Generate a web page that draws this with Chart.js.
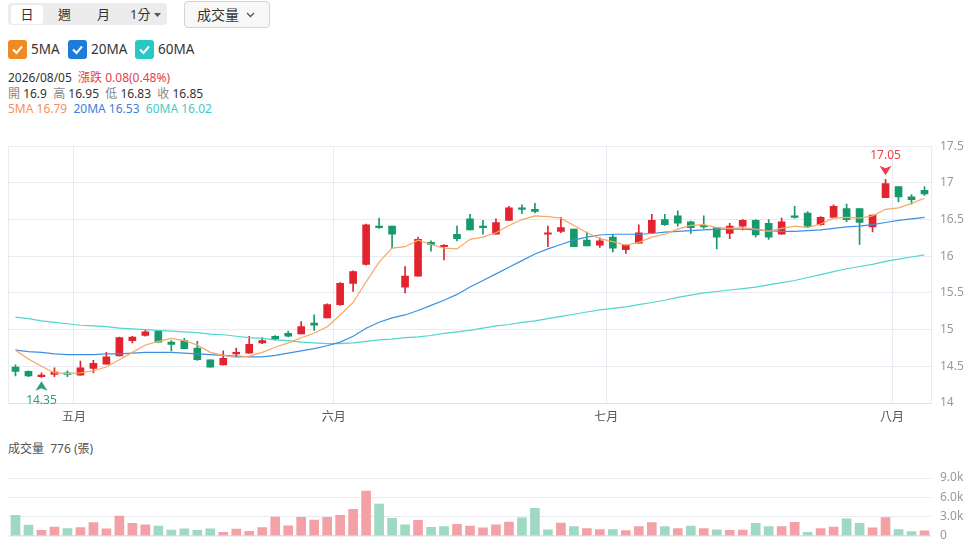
<!DOCTYPE html>
<html><head><meta charset="utf-8">
<script src="https://cdn.jsdelivr.net/npm/chart.js@4.4.1/dist/chart.umd.min.js"></script>
<style>
html,body{margin:0;padding:0;background:#fff}
body{width:973px;height:552px;overflow:hidden;position:relative;font-family:"Noto Sans","Noto Sans CJK TC",sans-serif;color:#333}
.tabs{position:absolute;left:8px;top:3px;width:159px;height:22px;background:#ececec;border-radius:4px;font-size:13px}
.tabs span{position:absolute;top:0;line-height:22px;color:#333}
.tabs .sel{left:3px;top:2px;width:32px;height:19px;line-height:19px;background:#fff;border-radius:3px;text-align:center}
.btn{position:absolute;left:184px;top:1px;width:84px;height:25px;border:1px solid #d4d4d4;border-radius:4px;background:#f8f8f8;font-size:14px;line-height:25px}
.legend{position:absolute;top:40px;left:8px;height:19px;font-size:13.5px;line-height:19px}
.cb{position:absolute;top:0;width:19px;height:19px;border-radius:3px}
.lt{position:absolute;top:0}
.info{position:absolute;left:8px;font-size:12px;white-space:pre;line-height:15px}
.g{color:#888}
#pwrap{position:absolute;left:0;top:130px;width:973px;height:300px}
#vwrap{position:absolute;left:0;top:460px;width:973px;height:92px}
.vl{position:absolute;left:8px;top:441px;font-size:12px;color:#555;white-space:pre;line-height:15px}
</style></head>
<body>
<div class="tabs"><span class="sel">日</span><span style="left:50px">週</span><span style="left:89px">月</span><span style="left:122px">1分</span><svg style="position:absolute;left:146px;top:10px" width="7" height="4" viewBox="0 0 7 4"><polygon points="0,0 7,0 3.5,4" fill="#555"/></svg></div>
<div class="btn"><span style="position:absolute;left:12px">成交量</span><svg style="position:absolute;left:61px;top:10px" width="9" height="6" viewBox="0 0 9 6"><polyline points="1,1 4.5,4.5 8,1" fill="none" stroke="#555" stroke-width="1.3"/></svg></div>
<div class="legend">
 <div class="cb" style="left:0;background:#f08a24"><svg width="19" height="19"><polyline points="5,9.5 8.5,13 14,6.5" fill="none" stroke="#fff" stroke-width="2"/></svg></div><span class="lt" style="left:23px">5MA</span>
 <div class="cb" style="left:60px;background:#1f7bd8"><svg width="19" height="19"><polyline points="5,9.5 8.5,13 14,6.5" fill="none" stroke="#fff" stroke-width="2"/></svg></div><span class="lt" style="left:83px">20MA</span>
 <div class="cb" style="left:127px;background:#26c9c4"><svg width="19" height="19"><polyline points="5,9.5 8.5,13 14,6.5" fill="none" stroke="#fff" stroke-width="2"/></svg></div><span class="lt" style="left:150px">60MA</span>
</div>
<div class="info" id="l1" style="top:70px"></div>
<div class="info" id="l2" style="top:86px"></div>
<div class="info" id="l3" style="top:101px"></div>
<div id="pwrap"><canvas id="pc"></canvas></div>
<div class="vl" id="vl"></div>
<div id="vwrap"><canvas id="vc"></canvas></div>
<script>
const dates = ['2026/04/24','2026/04/27','2026/04/28','2026/04/29','2026/04/30',
'2026/05/04','2026/05/05','2026/05/06','2026/05/07','2026/05/08','2026/05/11','2026/05/12','2026/05/13','2026/05/14','2026/05/15',
'2026/05/18','2026/05/19','2026/05/20','2026/05/21','2026/05/22','2026/05/25','2026/05/26','2026/05/27','2026/05/28','2026/05/29',
'2026/06/01','2026/06/02','2026/06/03','2026/06/04','2026/06/05','2026/06/08','2026/06/09','2026/06/10','2026/06/11','2026/06/12',
'2026/06/15','2026/06/16','2026/06/17','2026/06/18','2026/06/22','2026/06/23','2026/06/24','2026/06/25','2026/06/26','2026/06/29','2026/06/30',
'2026/07/01','2026/07/02','2026/07/03','2026/07/06','2026/07/07','2026/07/08','2026/07/09','2026/07/13','2026/07/14','2026/07/15',
'2026/07/16','2026/07/17','2026/07/20','2026/07/21','2026/07/22','2026/07/23','2026/07/24','2026/07/27','2026/07/28','2026/07/29',
'2026/07/30','2026/07/31','2026/08/03','2026/08/04','2026/08/05'];
const opens = [14.49,14.43,14.36,14.39,14.41,14.38,14.47,14.53,14.64,14.85, 14.92,14.98,14.83,14.85,14.75,14.59,14.52,14.67,14.68,14.82,
 14.91,14.95,14.94,15.09,15.16,15.34,15.63,15.89,16.41,16.41, 15.58,15.73,16.19,16.13,16.30,16.51,16.41,16.30,16.49,16.66,
 16.64,16.30,16.34,16.37,16.22,16.15,16.26,16.09,16.18,16.32, 16.50,16.55,16.47,16.41,16.39,16.31,16.41,16.49,16.45,16.30,
 16.55,16.59,16.43,16.53,16.65,16.65,16.40,16.80,16.95,16.81, 16.90];
const highs = [14.52,14.44,14.41,14.48,14.44,14.57,14.58,14.69,14.90,14.91, 15.00,14.99,14.85,14.88,14.84,14.59,14.71,14.75,14.91,14.89,
 14.92,14.98,15.11,15.20,15.35,15.64,15.80,16.44,16.52,16.41, 15.86,16.26,16.21,16.16,16.41,16.57,16.49,16.51,16.68,16.70,
 16.72,16.41,16.53,16.37,16.33,16.25,16.30,16.16,16.43,16.57, 16.57,16.62,16.48,16.55,16.39,16.45,16.50,16.50,16.50,16.52,
 16.68,16.61,16.54,16.70,16.71,16.65,16.56,17.05,16.95,16.84, 16.95];
const lows = [14.37,14.36,14.35,14.36,14.36,14.38,14.41,14.53,14.64,14.82, 14.91,14.83,14.71,14.74,14.58,14.49,14.52,14.63,14.68,14.81,
 14.86,14.90,14.94,14.99,15.16,15.33,15.52,15.88,16.38,16.11, 15.50,15.73,16.07,15.95,16.21,16.36,16.30,16.30,16.49,16.58,
 16.59,16.13,16.32,16.13,16.14,16.12,16.06,16.04,16.18,16.32, 16.42,16.41,16.31,16.38,16.10,16.24,16.36,16.26,16.23,16.30,
 16.52,16.40,16.42,16.53,16.47,16.16,16.33,16.80,16.74,16.71, 16.83];
const closes = [14.43,14.37,14.38,14.42,14.39,14.48,14.54,14.63,14.89,14.90, 14.97,14.83,14.80,14.74,14.59,14.49,14.61,14.69,14.80,14.85,
 14.87,14.91,15.04,15.06,15.34,15.63,15.79,16.43,16.39,16.30, 15.73,16.23,16.16,16.15,16.24,16.36,16.39,16.46,16.66,16.64,
 16.61,16.32,16.39,16.13,16.14,16.21,16.11,16.15,16.32,16.49, 16.43,16.45,16.39,16.40,16.26,16.41,16.49,16.29,16.26,16.47,
 16.53,16.41,16.53,16.68,16.50,16.46,16.56,16.99,16.81,16.77, 16.85];
const prevClose = 14.47;
const volumes = [3200,1660,840,1370,1130,1270,2050,1080,3070,1950, 1710,1520,900,1080,840,1080,550,1040,700,1270,
 2920,1560,2870,2430,2870,3200,4120,6970,4950,2720, 1720,2390,1320,1420,1770,1530,1230,1690,2140,2780,
 4270,940,2000,1420,1130,980,980,800,1420,2050, 1420,1130,1520,1130,940,840,900,1950,1420,1420,
 2100,550,1130,1370,2630,1950,1230,2820,980,650, 776];
const ma5 = [14.72,14.60,14.50,14.41,14.40,14.41,14.44,14.49,14.59,14.69, 14.79,14.84,14.88,14.85,14.79,14.69,14.65,14.62,14.64,14.69,
 14.76,14.82,14.89,14.95,15.04,15.20,15.37,15.65,15.92,16.11, 16.13,16.22,16.16,16.11,16.10,16.23,16.26,16.32,16.42,16.50,
 16.55,16.54,16.52,16.42,16.32,16.24,16.20,16.15,16.19,16.26, 16.30,16.37,16.42,16.43,16.39,16.38,16.39,16.37,16.34,16.38,
 16.41,16.39,16.44,16.52,16.53,16.52,16.55,16.64,16.66,16.72, 16.79];
const ma20 = [14.72,14.70,14.69,14.67,14.66,14.66,14.66,14.67,14.67,14.68, 14.69,14.69,14.69,14.68,14.67,14.66,14.65,14.64,14.63,14.63,
 14.65,14.68,14.71,14.74,14.78,14.83,14.91,15.02,15.10,15.16, 15.20,15.26,15.33,15.40,15.48,15.58,15.67,15.76,15.85,15.94,
 16.03,16.10,16.16,16.22,16.26,16.29,16.30,16.30,16.30,16.31, 16.33,16.34,16.35,16.36,16.37,16.37,16.37,16.36,16.35,16.34,
 16.34,16.35,16.36,16.38,16.40,16.41,16.43,16.46,16.49,16.51, 16.53];
const ma60 = [15.17,15.15,15.12,15.10,15.08,15.06,15.05,15.04,15.02,15.01, 15.00,14.99,14.98,14.97,14.96,14.94,14.93,14.91,14.89,14.88,
 14.86,14.85,14.83,14.82,14.81,14.81,14.82,14.84,14.86,14.87, 14.89,14.90,14.92,14.95,14.97,14.99,15.02,15.05,15.07,15.10,
 15.12,15.15,15.18,15.21,15.24,15.27,15.29,15.31,15.34,15.37, 15.40,15.44,15.47,15.50,15.52,15.54,15.56,15.58,15.61,15.64,
 15.67,15.71,15.75,15.79,15.83,15.86,15.89,15.93,15.96,15.99, 16.02];
const monthNames = {'01':'一月','02':'二月','03':'三月','04':'四月','05':'五月','06':'六月','07':'七月','08':'八月','09':'九月','10':'十月','11':'十一月','12':'十二月'};
const priceTicks = {min:14, max:17.5, step:0.5};
const volTicks = {min:0, max:9000, step:3000};

const RED='#e3232d', GREEN='#169a6b', VRED='#f3a1a6', VGREEN='#9fd8c3', GRID='#e8ebf2';
const n = dates.length;
const monthOf = i => dates[i].slice(5,7);
const isMonthStart = i => i > 0 && i < n && monthOf(i) !== monthOf(i-1);
const candleColor = closes.map((c,i)=> c >= opens[i] ? RED : GREEN);
const volColor = closes.map((c,i)=> c >= (i ? closes[i-1] : prevClose) ? VRED : VGREEN);

// info text
const L = n-1, chg = closes[L]-closes[L-1], pct = chg/closes[L-1]*100;
document.getElementById('l1').innerHTML = dates[L] + '  <span style="color:#e8404a">漲跌 ' + chg.toFixed(2) + '(' + pct.toFixed(2) + '%)</span>';
document.getElementById('l2').innerHTML = '<span class="g">開</span> ' + opens[L] + '  <span class="g">高</span> ' + highs[L] + '  <span class="g">低</span> ' + lows[L] + '  <span class="g">收</span> ' + closes[L];
document.getElementById('l3').innerHTML = '<span style="color:#f5905a">5MA ' + ma5[L] + '</span>  <span style="color:#3d80dd">20MA ' + ma20[L] + '</span>  <span style="color:#3fcbc8">60MA ' + ma60[L] + '</span>';
document.getElementById('vl').textContent = '成交量  ' + volumes[L] + ' (張)';

Chart.defaults.font.family = '"Noto Sans","Noto Sans CJK TC",sans-serif';
Chart.defaults.font.size = 12;
Chart.defaults.animation = false;

const hiLo = {
  id:'hilo',
  afterDatasetsDraw(chart){
    const {ctx, scales:{x,y}} = chart;
    let hi=0, lo=0;
    highs.forEach((v,i)=>{ if(v>highs[hi]) hi=i; });
    lows.forEach((v,i)=>{ if(v<lows[lo]) lo=i; });
    ctx.save();
    ctx.font = '12px "Noto Sans","Noto Sans CJK TC",sans-serif';
    ctx.textAlign='center'; ctx.textBaseline='middle';
    let px = x.getPixelForValue(hi), py = y.getPixelForValue(highs[hi]);
    ctx.fillStyle='#e8404a';
    ctx.beginPath(); ctx.moveTo(px-6,py-13.5); ctx.lineTo(px,py-11); ctx.lineTo(px+6,py-13.5); ctx.lineTo(px,py-4); ctx.closePath(); ctx.fill();
    ctx.fillText(highs[hi].toFixed(2), px, py-24);
    px = x.getPixelForValue(lo); py = y.getPixelForValue(lows[lo]);
    ctx.fillStyle='#2a9f75';
    ctx.beginPath(); ctx.moveTo(px-6,py+13.5); ctx.lineTo(px,py+11); ctx.lineTo(px+6,py+13.5); ctx.lineTo(px,py+4); ctx.closePath(); ctx.fill();
    ctx.fillText(lows[lo].toFixed(2), px, py+23);
    ctx.restore();
  }
};

const lineDs = (data,color)=>({type:'line', data, borderColor:color, borderWidth:1.2, pointRadius:0, tension:0, order:0, fill:false});

new Chart(document.getElementById('pc'), {
  type:'bar',
  data:{ labels:dates, datasets:[
    lineDs(ma5,'#f7a862'), lineDs(ma20,'#3f8fe0'), lineDs(ma60,'#4ed6cf'),
    {data:opens.map((o,i)=>[o,closes[i]]), backgroundColor:candleColor, barThickness:7, minBarLength:1.5, grouped:false, order:1, borderSkipped:false},
    {data:lows.map((l,i)=>[l,highs[i]]), backgroundColor:candleColor, barThickness:1, grouped:false, order:2, borderSkipped:false}
  ]},
  options:{
    responsive:true, maintainAspectRatio:false,
    layout:{padding:{left:9, top:16, right:0, bottom:0}},
    plugins:{legend:{display:false}, tooltip:{enabled:false}},
    scales:{
      x:{ offset:true, grid:{offset:true, drawTicks:false, color:c=> (c.index===0 || isMonthStart(c.index)) ? GRID : 'rgba(0,0,0,0)'},
          border:{display:true, color:'#dde1ea'},
          ticks:{autoSkip:false, maxRotation:0, padding:7, color:'#555', labelOffset:-6.5,
                 callback:(v,i)=> isMonthStart(i) ? monthNames[monthOf(i)] : ''},
          afterFit:s=>{s.height=27;} },
      y:{ position:'right', min:priceTicks.min, max:priceTicks.max,
          ticks:{stepSize:priceTicks.step, padding:9, color:'#999', callback:v=> String(Number(v.toFixed(2)))},
          grid:{color:GRID, drawTicks:false}, border:{display:true, color:GRID},
          afterFit:s=>{s.width=42;} }
    }
  },
  plugins:[hiLo]
});

new Chart(document.getElementById('vc'), {
  type:'bar',
  data:{ labels:dates, datasets:[{data:volumes, backgroundColor:volColor, barThickness:9}]},
  options:{
    responsive:true, maintainAspectRatio:false,
    layout:{padding:{left:9, top:18, right:0, bottom:11}},
    plugins:{legend:{display:false}, tooltip:{enabled:false}},
    scales:{
      x:{display:false, offset:true},
      y:{ position:'right', min:volTicks.min, max:volTicks.max,
          ticks:{stepSize:volTicks.step, padding:9, color:'#999', callback:v=> v===0 ? '0' : (v/1000).toFixed(1)+'k'},
          grid:{color:c=> c.tick && c.tick.value===0 ? '#dfe2ea' : GRID, lineWidth:c=> c.tick && c.tick.value===0 ? 1.5 : 1, drawTicks:false},
          border:{display:false},
          afterFit:s=>{s.width=42;} }
    }
  }
});
</script>
</body></html>
